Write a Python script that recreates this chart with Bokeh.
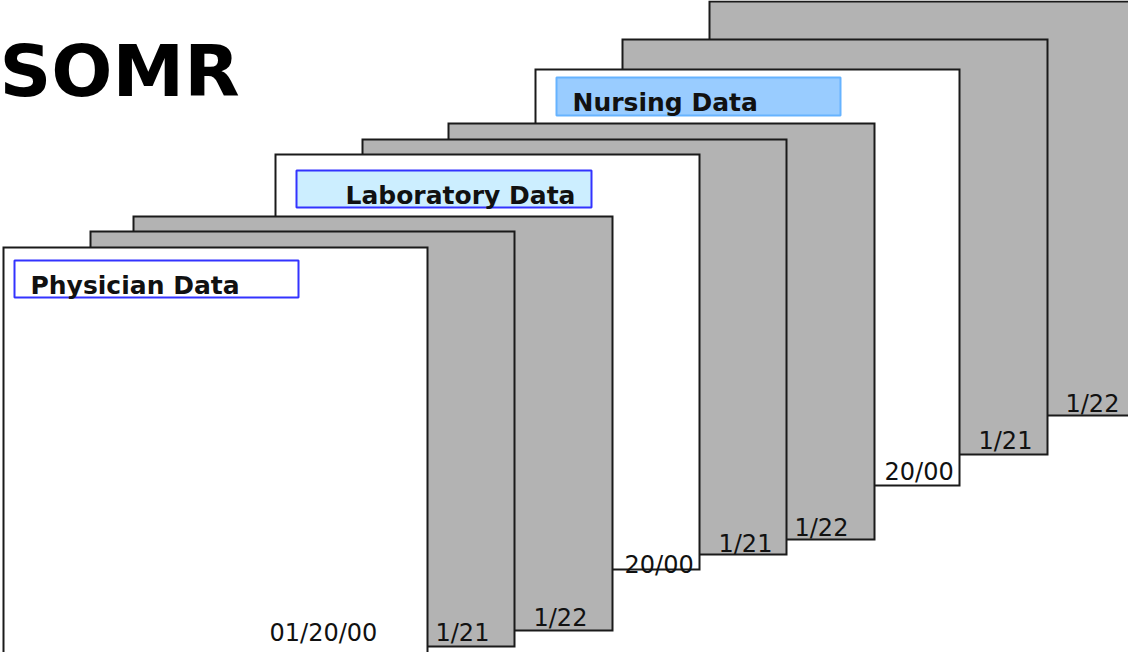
from bokeh.plotting import figure
from bokeh.models import Range1d, ColumnDataSource
from bokeh.core.properties import value
from bokeh.embed import file_html
from bokeh.resources import INLINE

# ---- data (front page first) ----
page_left = [11, 98, 141, 283, 370, 456, 543, 630, 717]
page_right = [435, 522, 620, 707, 794, 882, 967, 1055, 1140]
page_top = [255, 239, 224, 162, 147, 131, 77, 47, 9]
page_bottom = [672, 654, 638, 577, 562, 547, 493, 462, 423]
page_kind = ["main", "copy", "copy", "main", "copy", "copy", "main", "copy", "copy"]
date_labels = ["01/20/00", "1/21", "1/22", "20/00", "1/21", "1/22", "20/00", "1/21", "1/22"]
date_x = [277, 443, 541, 632, 726, 802, 892, 986, 1073]
date_y = [640, 640, 625, 572, 551, 535, 479, 448, 411]

section_names = ["Physician Data", "Laboratory Data", "Nursing Data"]
section_left = [22, 304, 564]
section_right = [306, 599, 848]
section_top = [268, 178, 85]
section_bottom = [305, 215, 123]
section_fill = ["#ffffff", "#cceeff", "#99ccff"]
section_line = ["#3333ff", "#3333ff", "#66b3ff"]
section_text_x = [38, 353, 580]
section_text_y = [293, 203, 110]

title = "SOMR"

# ---- figure ----
p = figure(width=1128, height=652, output_backend="svg", toolbar_location=None,
           x_range=Range1d(8, 1136), y_range=Range1d(660, 8),
           min_border=0, min_border_left=0, min_border_right=0,
           min_border_top=0, min_border_bottom=0)
p.xaxis.visible = False
p.yaxis.visible = False
p.grid.visible = False
p.outline_line_color = None
p.background_fill_color = "white"
p.border_fill_color = "white"

fills = {"main": "#ffffff", "copy": "#b3b3b3"}
order = list(range(len(page_left)))[::-1]  # back to front
pages = ColumnDataSource(dict(
    left=[page_left[i] for i in order],
    right=[page_right[i] for i in order],
    top=[page_top[i] for i in order],
    bottom=[page_bottom[i] for i in order],
    fill=[fills[page_kind[i]] for i in order],
))
p.quad(left="left", right="right", top="top", bottom="bottom", source=pages,
       fill_color="fill", line_color="#1a1a1a", line_width=2, line_join="miter")

dates = ColumnDataSource(dict(x=date_x, y=date_y, t=date_labels))
p.text(x="x", y="y", text="t", source=dates, text_font=value("DejaVu Sans"),
       text_font_size="24px", text_color="#111111", text_align="left",
       text_baseline="alphabetic")

secs = ColumnDataSource(dict(left=section_left, right=section_right, top=section_top,
                             bottom=section_bottom, fill=section_fill, line=section_line,
                             tx=section_text_x, ty=section_text_y, t=section_names))
p.quad(left="left", right="right", top="top", bottom="bottom", source=secs,
       fill_color="fill", line_color="line", line_width=2)
p.text(x="tx", y="ty", text="t", source=secs, text_font=value("DejaVu Sans"),
       text_font_style="bold", text_font_size="25px", text_color="#111111",
       text_align="left", text_baseline="alphabetic")

p.text(x=[7], y=[78], text=[title], text_font=value("DejaVu Sans"),
       text_font_style="bold", text_font_size="72px", text_color="#000000",
       text_align="left", text_baseline="alphabetic")

open("out.html", "w").write(file_html(p, INLINE))
